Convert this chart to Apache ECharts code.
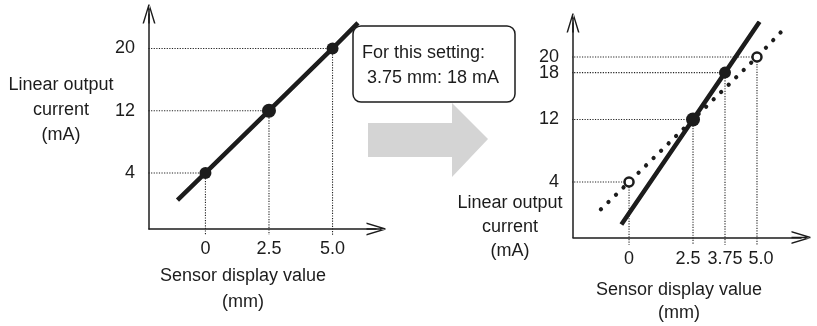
<!DOCTYPE html>
<html>
<head>
<meta charset="utf-8">
<script src="https://cdn.jsdelivr.net/npm/echarts@6/dist/echarts.min.js"></script>
<style>
  html, body { margin: 0; padding: 0; background: #fff; }
  #chart { width: 817px; height: 326px; }
</style>
</head>
<body>
<div id="chart"></div>
<script>
// left panel: original setting
const leftPointsX = [0, 2.5, 5.0]
const leftPointsY = [4, 12, 20]
const leftLineStart = [-1.1, 0.5]
const leftLineEnd = [6.0, 23.3]
const leftXTicks = [0, 2.5, 5.0]
const leftYTicks = [4, 12, 20]

// right panel: old line (dotted, hollow points) and new line (solid)
const oldPointsX = [0, 5.0]
const oldPointsY = [4, 20]
const oldLineStart = [-1.1, 0.5]
const oldLineEnd = [6.0, 23.4]
const newPointsX = [2.5, 3.75]
const newPointsY = [12, 18]
const newLineStart = [-0.3, -1.45]
const newLineEnd = [5.1, 24.5]
const rightXTicks = [0, 2.5, 3.75, 5.0]
const rightYTicks = [4, 12, 18, 20]

const tickText = v => (v === 5 ? '5.0' : String(v))
// crowded labels on the right x axis are nudged apart a little
const rightXText = v => {
  if (v === 2.5) return '{l|2.5}'
  if (v === 5) return '{r|5.0}'
  return tickText(v)
}

const INK = '#1c1c1c'
const FONT = 'Liberation Sans'
const ARROW = 'path://M0,190 L58,0 L72,0 L15,190 Z M130,190 L72,0 L58,0 L115,190 Z M57,0 L73,0 L73,190 L57,190 Z'

function axisBase (gridIndex, position, min, max, margin, ticks, labelExtra) {
  return {
    type: 'value',
    gridIndex: gridIndex,
    position: position,
    min: min,
    max: max,
    axisLine: {
      show: true,
      onZero: false,
      symbol: ['none', ARROW],
      symbolSize: [13, 19],
      lineStyle: { color: INK, width: 1.5 }
    },
    axisTick: { show: false },
    splitLine: { show: false },
    axisLabel: Object.assign({
      color: INK,
      fontSize: 18,
      fontFamily: FONT,
      margin: margin,
      hideOverlap: false,
      showMinLabel: true,
      showMaxLabel: true,
      formatter: tickText,
      customValues: ticks
    }, labelExtra || {})
  }
}

function pairs (xs, ys) {
  return xs.map((x, i) => [x, ys[i]])
}

function guides (pts, xIndex, yIndex, xStop, yStop) {
  return pts.map(p => ({
    type: 'line',
    xAxisIndex: xIndex,
    yAxisIndex: yIndex,
    data: [[xStop, p[1]], p, [p[0], yStop]],
    showSymbol: false,
    clip: false,
    silent: true,
    z: 1,
    lineStyle: { color: '#222', width: 1.1, type: [1.2, 1.4] }
  }))
}

const leftPts = pairs(leftPointsX, leftPointsY)
const oldPts = pairs(oldPointsX, oldPointsY)
const newPts = pairs(newPointsX, newPointsY)
const rightGuidePts = oldPts.concat(newPts)

// 18 and 20 sit very close, so the right y labels are split over two
// overlaid axes to keep ECharts from dropping one of them
const rightYTicksA = rightYTicks.filter((v, i) => i % 2 === 0)
const rightYTicksB = rightYTicks.filter((v, i) => i % 2 === 1)

const chart = echarts.init(document.getElementById('chart'))

const rightYB = axisBase(1, 'left', -3.1, 24.35, 14, rightYTicksB)
rightYB.axisLine = { show: false, onZero: false }

const option = {
  animation: false,
  backgroundColor: '#fff',
  grid: [
    { left: 149, top: 14, width: 227, height: 215, outerBoundsMode: 'none' },
    { left: 573, top: 23, width: 228, height: 214.5, outerBoundsMode: 'none' }
  ],
  xAxis: [
    axisBase(0, 'bottom', -2.22, 6.71, 11, leftXTicks),
    axisBase(1, 'bottom', -2.19, 6.72, 13, rightXTicks, {
      formatter: rightXText,
      rich: {
        l: { fontSize: 18, fontFamily: FONT, color: INK, padding: [0, 10, 0, 0] },
        r: { fontSize: 18, fontFamily: FONT, color: INK, padding: [0, 0, 0, 8] }
      }
    })
  ],
  yAxis: [
    axisBase(0, 'left', -3.2, 24.43, 14, leftYTicks),
    axisBase(1, 'left', -3.1, 24.35, 14, rightYTicksA),
    rightYB
  ],
  series: [
    ...guides(leftPts, 0, 0, -2.65, -3.95),
    ...guides(rightGuidePts, 1, 1, -2.45, -4.05),
    {
      type: 'line',
      xAxisIndex: 0,
      yAxisIndex: 0,
      data: [leftLineStart, ...leftPts, leftLineEnd],
      showSymbol: false,
      silent: true,
      z: 3,
      lineStyle: { color: INK, width: 4.5 }
    },
    {
      type: 'scatter',
      xAxisIndex: 0,
      yAxisIndex: 0,
      data: leftPts,
      symbolSize: v => (v[1] === 12 ? 14 : 12),
      itemStyle: { color: INK, opacity: 1 },
      z: 4
    },
    {
      type: 'line',
      xAxisIndex: 1,
      yAxisIndex: 1,
      data: [oldLineStart, ...oldPts, oldLineEnd],
      showSymbol: false,
      silent: true,
      z: 2,
      lineStyle: { color: INK, width: 4.2, type: [0.1, 10.4], cap: 'round' }
    },
    {
      type: 'line',
      xAxisIndex: 1,
      yAxisIndex: 1,
      data: [newLineStart, ...newPts, newLineEnd],
      showSymbol: false,
      silent: true,
      z: 3,
      lineStyle: { color: INK, width: 4.5 }
    },
    {
      type: 'scatter',
      xAxisIndex: 1,
      yAxisIndex: 1,
      data: oldPts,
      symbolSize: 9,
      itemStyle: { color: '#fff', borderColor: INK, borderWidth: 2.5, opacity: 1 },
      z: 4
    },
    {
      type: 'scatter',
      xAxisIndex: 1,
      yAxisIndex: 1,
      data: newPts,
      symbolSize: v => (v[1] === 12 ? 14 : 12),
      itemStyle: { color: INK, opacity: 1 },
      z: 4
    }
  ],
  graphic: [
    // grey arrow between the panels
    {
      type: 'polygon',
      z: 1,
      shape: { points: [[368, 123], [452, 123], [452, 103], [488, 139], [452, 177], [452, 157], [368, 157]] },
      style: { fill: '#d4d4d4' }
    },
    {
      type: 'rect',
      z: 5,
      shape: { x: 353, y: 26, width: 162, height: 76, r: 8 },
      style: { fill: '#fff', stroke: INK, lineWidth: 1.5 }
    },
    {
      type: 'text',
      z: 6,
      x: 362,
      y: 65.5,
      style: { text: 'For this setting:\n 3.75 mm: 18 mA', font: '18px "Liberation Sans"', fill: INK, align: 'left', verticalAlign: 'middle', lineHeight: 25 }
    },
    {
      type: 'text',
      x: 61,
      y: 110,
      style: { text: 'Linear output\ncurrent\n(mA)', font: '18px "Liberation Sans"', fill: INK, align: 'center', verticalAlign: 'middle', lineHeight: 25 }
    },
    {
      type: 'text',
      x: 243,
      y: 289,
      style: { text: 'Sensor display value\n(mm)', font: '18px "Liberation Sans"', fill: INK, align: 'center', verticalAlign: 'middle', lineHeight: 26 }
    },
    {
      type: 'text',
      x: 510,
      y: 227,
      style: { text: 'Linear output\ncurrent\n(mA)', font: '18px "Liberation Sans"', fill: INK, align: 'center', verticalAlign: 'middle', lineHeight: 24 }
    },
    {
      type: 'text',
      x: 679,
      y: 301.5,
      style: { text: 'Sensor display value\n(mm)', font: '18px "Liberation Sans"', fill: INK, align: 'center', verticalAlign: 'middle', lineHeight: 23 }
    }
  ]
}

chart.setOption(option)
</script>
</body>
</html>
